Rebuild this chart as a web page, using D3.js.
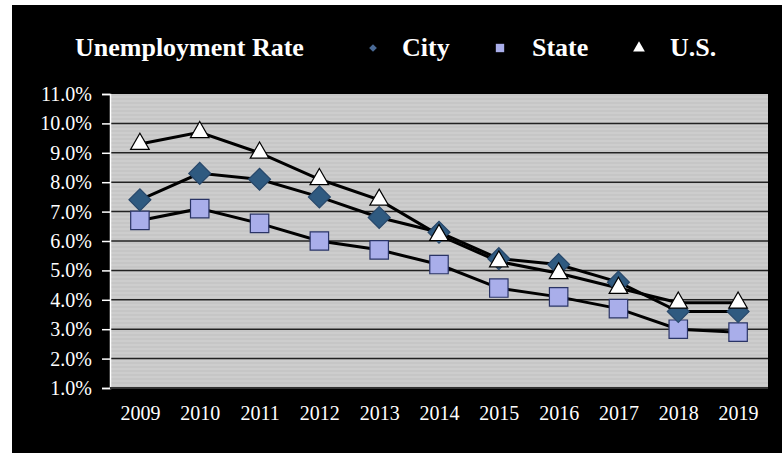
<!DOCTYPE html>
<html>
<head>
    <script src="https://d3js.org/d3.v7.min.js"></script>
    <style>
        body { margin: 0; background: #fff; }
        text { font-family: 'Liberation Serif', 'Times New Roman', serif; fill: #fff; }
    </style>
</head>
<body>
<svg id="chart" width="782" height="455"></svg>
<script>
    // data
    var years = ["2009", "2010", "2011", "2012", "2013", "2014", "2015", "2016", "2017", "2018", "2019"];
    var city  = [7.4, 8.3, 8.1, 7.5, 6.8, 6.3, 5.4, 5.2, 4.6, 3.6, 3.6];
    var state = [6.7, 7.1, 6.6, 6.0, 5.7, 5.2, 4.4, 4.1, 3.7, 3.0, 2.9];
    var us    = [9.3, 9.7, 9.0, 8.1, 7.4, 6.2, 5.3, 4.9, 4.4, 3.9, 3.9];
    var yTicks = [1, 2, 3, 4, 5, 6, 7, 8, 9, 10, 11];

    var svg = d3.select("#chart");

    // black panel
    svg.append("rect")
        .attr("x", 12).attr("y", 5)
        .attr("width", 770).attr("height", 448)
        .attr("fill", "#000");

    var plotLeft = 110, plotRight = 768, plotTop = 94, plotBottom = 388;

    var x = d3.scalePoint().domain(years).range([plotLeft, plotRight]).padding(0.5);
    var y = d3.scaleLinear().domain([1, 11]).range([plotBottom, plotTop]);

    // plot background with faint horizontal texture
    svg.append("rect")
        .attr("x", plotLeft).attr("y", plotTop)
        .attr("width", plotRight - plotLeft).attr("height", plotBottom - plotTop)
        .attr("fill", "#c6c6c6");
    svg.append("g").selectAll("line")
        .data(d3.range(plotTop + 3, plotBottom, 4))
        .enter().append("line")
        .attr("x1", plotLeft).attr("x2", plotRight)
        .attr("y1", d => d).attr("y2", d => d)
        .attr("stroke", "#d4d4d4").attr("stroke-width", 1);

    // gridlines
    svg.append("g").selectAll("line")
        .data(yTicks.slice(1, -1))
        .enter().append("line")
        .attr("x1", plotLeft).attr("x2", plotRight)
        .attr("y1", d => y(d)).attr("y2", d => y(d))
        .attr("stroke", "#222").attr("stroke-width", 1.5);

    // y axis
    var yAxis = svg.append("g")
        .attr("transform", "translate(" + plotLeft + ",0)")
        .call(d3.axisLeft(y).tickValues(yTicks).tickSize(8).tickPadding(10)
            .tickFormat(d => d.toFixed(1) + "%"));
    yAxis.select(".domain").attr("stroke", "#fff").attr("stroke-width", 1.5);
    yAxis.selectAll(".tick line").attr("stroke", "#fff").attr("stroke-width", 1.5);
    yAxis.selectAll("text").style("font-size", "20px").attr("fill", "#fff");

    // x labels
    var xAxis = svg.append("g")
        .attr("transform", "translate(0," + plotBottom + ")")
        .call(d3.axisBottom(x).tickSize(0).tickPadding(18));
    xAxis.select(".domain").remove();
    xAxis.selectAll("text").style("font-size", "20px").attr("fill", "#fff");

    // bottom edge of plot
    svg.append("line")
        .attr("x1", plotLeft).attr("x2", plotRight)
        .attr("y1", plotBottom).attr("y2", plotBottom)
        .attr("stroke", "#333").attr("stroke-width", 2);

    // diamond = square turned 45 degrees
    var series = [
        { name: "City", values: city, shape: d3.symbolSquare, rot: 45, size: 240, fill: "#2f5a80", stroke: "#27476a" },
        { name: "State", values: state, shape: d3.symbolSquare, rot: 0, size: 340, fill: "#a9aeea", stroke: "#2a3466" },
        { name: "U.S.", values: us, shape: d3.symbolTriangle, rot: 0, size: 150, fill: "#fff", stroke: "#000" }
    ];

    var line = d3.line()
        .x((d, i) => x(years[i]))
        .y(d => y(d));

    // lines first, then markers (state, city, us)
    var order = [series[1], series[0], series[2]];
    order.forEach(s => {
        svg.append("path")
            .datum(s.values)
            .attr("d", line)
            .attr("fill", "none")
            .attr("stroke", "#000")
            .attr("stroke-width", 3);
    });

    order.forEach(s => {
        svg.append("g").selectAll("path")
            .data(s.values)
            .enter().append("path")
            .attr("transform", (d, i) => "translate(" + x(years[i]) + "," + y(d) + ") rotate(" + s.rot + ")")
            .attr("d", d3.symbol().type(s.shape).size(s.size))
            .attr("fill", s.fill)
            .attr("stroke", s.stroke)
            .attr("stroke-width", 1.2);
    });

    // title and legend
    svg.append("text")
        .attr("x", 75).attr("y", 56)
        .style("font-size", "26px").style("font-weight", "bold")
        .text("Unemployment Rate");

    var legendX = [373, 500, 639];
    var legendText = [402, 532, 670];
    var legendSize = [30, 70, 60];
    var legendFill = ["#4a6a96", "#a9aeea", "#fff"];
    series.forEach((s, i) => {
        svg.append("path")
            .attr("transform", "translate(" + legendX[i] + ",48) rotate(" + s.rot + ")")
            .attr("d", d3.symbol().type(s.shape).size(legendSize[i]))
            .attr("fill", legendFill[i]);
        svg.append("text")
            .attr("x", legendText[i]).attr("y", 56)
            .style("font-size", "26px").style("font-weight", "bold")
            .text(s.name);
    });
</script>
</body>
</html>
